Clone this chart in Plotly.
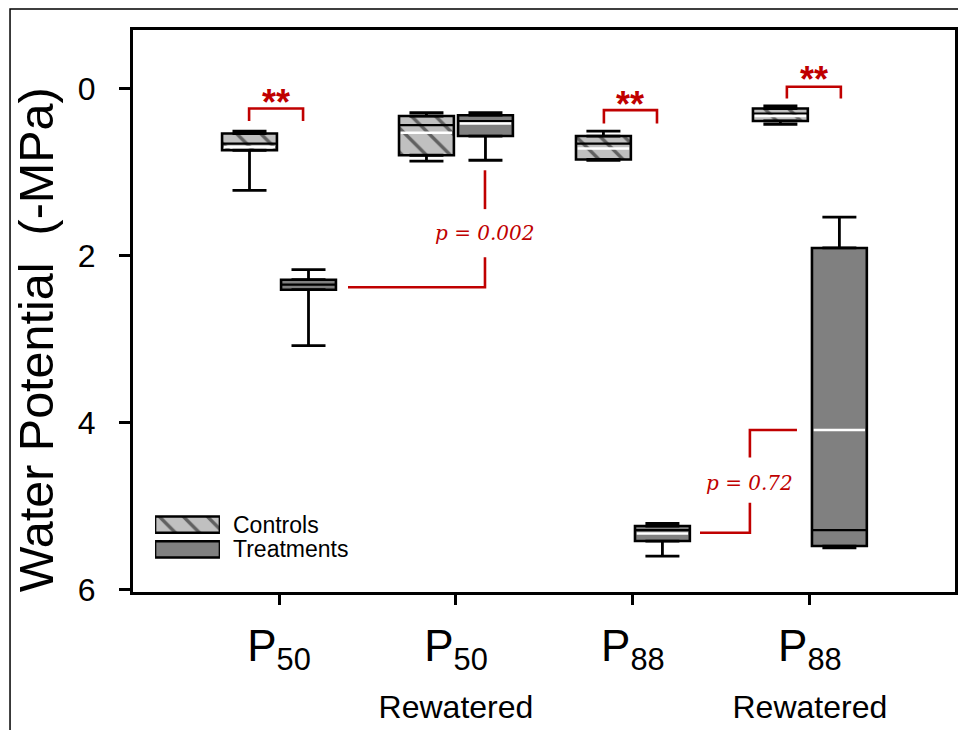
import plotly.graph_objects as go

# ---------------- data ----------------
categories = ["P50", "P50 Rewatered", "P88", "P88 Rewatered"]
tick_main = ["P<sub>50</sub>", "P<sub>50</sub>", "P<sub>88</sub>", "P<sub>88</sub>"]
tick_sub = ["", "Rewatered", "", "Rewatered"]
series_names = ["Controls", "Treatments"]

# Controls box statistics (-MPa)
ctrl_lo = [0.51, 0.29, 0.51, 0.21]
ctrl_q1 = [0.54, 0.33, 0.57, 0.24]
ctrl_med = [0.66, 0.44, 0.66, 0.30]
ctrl_mean = [0.70, 0.53, 0.72, 0.33]
ctrl_q3 = [0.74, 0.80, 0.85, 0.39]
ctrl_hi = [1.22, 0.87, 0.86, 0.43]

# Treatments box statistics (-MPa)
trt_lo = [2.17, 0.29, 5.21, 1.54]
trt_q1 = [2.29, 0.32, 5.24, 1.91]
trt_med = [2.35, 0.39, 5.29, 5.29]
trt_mean = [None, 0.42, 5.33, 4.09]
trt_q3 = [2.41, 0.57, 5.42, 5.48]
trt_hi = [3.08, 0.86, 5.60, 5.50]

y_ticks = [0, 2, 4, 6]

# significance annotations
star_labels = ["**", "**", "**"]
star_x = [(-0.169, 0.136), (1.836, 2.136), (2.870, 3.175)]
star_y = [(0.24, 0.39), (0.26, 0.42), (-0.02, 0.12)]
star_text_y = [0.07, 0.10, -0.20]

p_labels = ["p = 0.002", "p = 0.72"]

# ---------------- styling / layout constants ----------------
FONT = "Liberation Sans, Arial, sans-serif"
RED = "#c00000"
CTRL_FILL = "#c0c0c0"
TRT_FILL = "#808080"
OFF = 0.1667   # half distance between paired boxes (category units)
BW = 0.31      # box width (category units)

idx = list(range(len(categories)))
fig = go.Figure()


def add_series(name, offset, lo, q1, med, mean, q3, hi, marker):
    xs = [i + offset for i in idx]
    fig.add_trace(go.Bar(
        x=xs, y=[b - a for a, b in zip(q1, q3)], base=q1, width=BW,
        marker=marker, name=name, showlegend=False, hoverinfo="skip"))
    # whiskers (error bars anchored on box edges)
    wx, wy, wp, wm = [], [], [], []
    for x, l, a, b, h in zip(xs, lo, q1, q3, hi):
        wx += [x, x]
        wy += [a, b]
        wp += [0, h - b]
        wm += [a - l, 0]
    fig.add_trace(go.Scatter(
        x=wx, y=wy, mode="markers",
        marker=dict(size=1, color="rgba(0,0,0,0)"),
        error_y=dict(type="data", symmetric=False, array=wp, arrayminus=wm,
                     color="black", thickness=2.8, width=17),
        showlegend=False, hoverinfo="skip"))
    # median (black) and mean (white) lines
    mx, my, ax_, ay = [], [], [], []
    for x, m, mn in zip(xs, med, mean):
        mx += [x - BW / 2, x + BW / 2, None]
        my += [m, m, None]
        if mn is not None:
            ax_ += [x - BW / 2 + 0.01, x + BW / 2 - 0.01, None]
            ay += [mn, mn, None]
    fig.add_trace(go.Scatter(x=mx, y=my, mode="lines",
                             line=dict(color="black", width=2.2),
                             showlegend=False, hoverinfo="skip"))
    fig.add_trace(go.Scatter(x=ax_, y=ay, mode="lines",
                             line=dict(color="white", width=2.5),
                             showlegend=False, hoverinfo="skip"))


ctrl_marker = dict(color=CTRL_FILL, line=dict(color="black", width=2.6),
                   pattern=dict(shape="\\", fgcolor="black", bgcolor=CTRL_FILL,
                                size=17, solidity=0.2))
trt_marker = dict(color=TRT_FILL, line=dict(color="black", width=2.6))

add_series(series_names[0], -OFF, ctrl_lo, ctrl_q1, ctrl_med, ctrl_mean,
           ctrl_q3, ctrl_hi, ctrl_marker)
add_series(series_names[1], OFF, trt_lo, trt_q1, trt_med, trt_mean,
           trt_q3, trt_hi, trt_marker)

# custom legend drawn as bars on a hidden small subplot
for nm, mk in zip(series_names, [ctrl_marker, trt_marker]):
    fig.add_trace(go.Bar(x=[1], y=[nm], orientation="h", xaxis="x2", yaxis="y2",
                         width=0.66, marker=mk, showlegend=False, hoverinfo="skip"))
    fig.add_annotation(x=1, y=nm, xref="x2", yref="y2", text=nm,
                       showarrow=False, xanchor="left", xshift=12, borderpad=0,
                       font=dict(family=FONT, size=23, color="black"))

# significance brackets
for (x0, x1), (yt, yl), ty, lab in zip(star_x, star_y, star_text_y, star_labels):
    fig.add_trace(go.Scatter(x=[x0, x0, x1, x1], y=[yl, yt, yt, yl], mode="lines",
                             line=dict(color=RED, width=2.6),
                             showlegend=False, hoverinfo="skip"))
    fig.add_annotation(x=(x0 + x1) / 2, y=ty, text="<b>" + lab + "</b>",
                       showarrow=False, yshift=-8,
                       font=dict(family=FONT, size=36, color=RED))

# p-value connectors
p_paths = [
    dict(x=[0.39, 1.164, 1.164, None, 1.164, 1.164],
         y=[2.38, 2.38, 2.02, None, 1.445, 0.98], tx=1.164, ty=1.73),
    dict(x=[2.379, 2.661, 2.661, None, 2.661, 2.661, 2.927],
         y=[5.32, 5.32, 4.96, None, 4.42, 4.09, 4.09], tx=2.661, ty=4.72),
]
for pp, lab in zip(p_paths, p_labels):
    fig.add_trace(go.Scatter(x=pp["x"], y=pp["y"], mode="lines",
                             line=dict(color=RED, width=2.6),
                             showlegend=False, hoverinfo="skip"))
    fig.add_annotation(x=pp["tx"], y=pp["ty"], text="<i>" + lab + "</i>",
                       showarrow=False,
                       font=dict(family="DejaVu Serif, serif", size=20, color=RED))

# y-axis title as annotation
fig.add_annotation(x=-0.118, y=0.448, xref="paper", yref="paper",
                   text="Water Potential\u00a0 (-MPa)", textangle=-90,
                   showarrow=False, xanchor="center", yanchor="middle",
                   font=dict(family=FONT, size=48.5, color="black"))

# outer frame
fig.add_shape(type="rect", xref="paper", yref="paper",
              x0=-0.1496, x1=1.2, y0=-0.5, y1=1.0374,
              line=dict(color="black", width=1.5), layer="above")

ticktext = []
for m, s in zip(tick_main, tick_sub):
    t = m
    if s:
        t += "<br><span style='font-size:32px'>" + s + "</span>"
    ticktext.append(t)

# the page body adds an 8px offset; the figure is sized/margined to compensate
fig.update_layout(
    width=958, height=722,
    margin=dict(l=125, r=11, t=22, b=138),
    paper_bgcolor="white", plot_bgcolor="white",
    barmode="overlay",
    showlegend=False,
    font=dict(family=FONT, color="black"),
    xaxis=dict(range=[-0.825, 3.82], tickvals=idx, ticktext=ticktext,
               automargin=False,
               showgrid=False, zeroline=False,
               showline=True, linecolor="black", linewidth=3, mirror=True,
               ticks="outside", ticklen=10, tickwidth=2.5, tickcolor="black",
               ticklabelstandoff=3,
               tickfont=dict(family=FONT, size=44, color="black")),
    yaxis=dict(range=[6.03, -0.70], tickvals=y_ticks, ticktext=[str(v) for v in y_ticks],
               automargin=False,
               showgrid=False, zeroline=False,
               showline=True, linecolor="black", linewidth=3, mirror=True,
               ticks="outside", ticklen=11, tickwidth=2.5, tickcolor="black",
               ticklabelstandoff=17,
               tickfont=dict(family=FONT, size=32, color="black")),
    xaxis2=dict(domain=[0.0268, 0.1058], anchor="y2", range=[0, 1], visible=False),
    yaxis2=dict(domain=[0.0540, 0.1418], anchor="x2", visible=False,
                type="category", categoryorder="array", categoryarray=series_names,
                range=[1.5, -0.5]),
)

fig.write_html("out.html")
